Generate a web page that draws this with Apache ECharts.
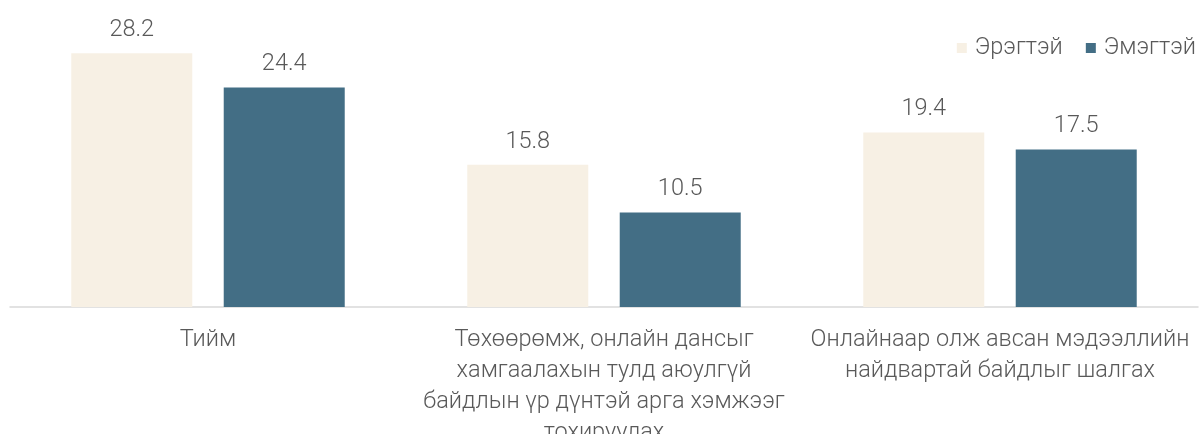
<!DOCTYPE html>
<html>
<head>
<meta charset="utf-8">
<script src="https://cdn.jsdelivr.net/npm/echarts@6/dist/echarts.min.js"></script>
<style>
  html, body { margin: 0; padding: 0; background: #fff; }
  #chart { width: 1199px; height: 434px; }
</style>
</head>
<body>
<div id="chart"></div>
<script>
var categories = [
    'Тийм',
    'Төхөөрөмж, онлайн дансыг\nхамгаалахын тулд аюулгүй\nбайдлын үр дүнтэй арга хэмжээг\nтохируулах',
    'Онлайнаар олж авсан мэдээллийн\nнайдвартай байдлыг шалгах'
];
var seriesNames = ['Эрэгтэй', 'Эмэгтэй'];
var maleValues = [28.2, 15.8, 19.4];
var femaleValues = [24.4, 10.5, 17.5];

var colors = ['#F7F0E4', '#436E85'];
var textColor = '#595959';
var fontFamily = 'Roboto, sans-serif';

var chart = echarts.init(document.getElementById('chart'));

var labelStyle = {
    show: true,
    position: 'top',
    distance: 11,
    color: textColor,
    fontSize: 23.5,
    fontWeight: 300,
    fontFamily: fontFamily,
    formatter: function (p) { return p.value.toFixed(1); }
};

var option = {
    animation: false,
    color: colors,
    legend: {
        data: seriesNames,
        right: -2,
        top: 31,
        itemWidth: 10,
        itemHeight: 10,
        itemGap: 23,
        icon: 'rect',
        textStyle: {
            color: textColor,
            fontSize: 23.5,
            fontWeight: 300,
            fontFamily: fontFamily,
            padding: [0, 0, 0, 3]
        }
    },
    grid: {
        left: 10,
        right: 1,
        top: 37,
        bottom: 127,
        outerBoundsMode: 'none'
    },
    xAxis: {
        type: 'category',
        data: categories,
        axisLine: { lineStyle: { color: '#d9d9d9', width: 1.5 } },
        axisTick: { show: false },
        axisLabel: {
            interval: 0,
            margin: 18,
            color: textColor,
            fontSize: 23.5,
            fontWeight: 300,
            lineHeight: 31,
            fontFamily: fontFamily
        }
    },
    yAxis: {
        type: 'value',
        min: 0,
        max: 30,
        show: false,
        splitLine: { show: false }
    },
    series: [
        {
            name: seriesNames[0],
            type: 'bar',
            barWidth: 121,
            barGap: '26%',
            data: maleValues,
            label: labelStyle
        },
        {
            name: seriesNames[1],
            type: 'bar',
            barWidth: 121,
            barGap: '26%',
            data: femaleValues,
            label: labelStyle
        }
    ]
};
chart.setOption(option);
</script>
</body>
</html>
